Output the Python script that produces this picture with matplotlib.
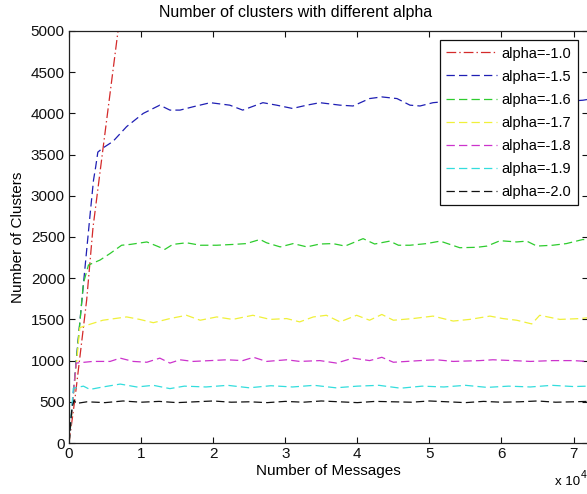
import matplotlib
matplotlib.use("Agg")
import matplotlib.pyplot as plt
from matplotlib import font_manager

# ---------------- data ----------------
labels = ["alpha=-1.0", "alpha=-1.5", "alpha=-1.6", "alpha=-1.7",
          "alpha=-1.8", "alpha=-1.9", "alpha=-2.0"]

x_a10 = [0, 800, 2450, 3330, 4700, 6800, 7300]
y_a10 = [0, 520, 1735, 2615, 3560, 5000, 5350]

x_a15 = [0, 1000, 2100, 2450, 2900, 3400, 3700, 4000, 4700, 6100, 8000, 10300,
         12600, 14000, 15400, 17200, 19600, 22300, 24100, 26900, 28800, 31000,
         33000, 34800, 37600, 39400, 41700, 43400, 45500, 47300, 48700, 50500,
         53000, 56000, 59000, 62000, 65000, 68000, 71300, 72000]
y_a15 = [0, 1000, 2020, 2340, 2750, 3190, 3350, 3530, 3580, 3660, 3840, 4000,
         4100, 4040, 4040, 4080, 4130, 4100, 4040, 4130, 4100, 4060,
         4100, 4130, 4100, 4090, 4180, 4200, 4180, 4100, 4090, 4130,
         4150, 4120, 4160, 4130, 4150, 4140, 4160, 4170]

x_a16 = [0, 2000, 2700, 4300, 5700, 7300, 8500, 10800, 12200, 13300, 14400,
         16300, 18200, 20500, 22800, 24600, 26500, 27400, 29300, 31100, 33000,
         34800, 36600, 38300, 40800, 42400, 44500, 45700, 47300, 49600, 51500,
         54200, 56600, 58000, 59800, 62100, 63500, 64900, 67100, 69000, 71300,
         72000]
y_a16 = [0, 1940, 2160, 2220, 2300, 2400, 2410, 2440, 2390, 2350, 2410,
         2430, 2400, 2400, 2410, 2420, 2470, 2430, 2380, 2420, 2380,
         2415, 2420, 2390, 2480, 2415, 2450, 2400, 2400, 2420, 2450,
         2370, 2375, 2390, 2455, 2440, 2450, 2390, 2400, 2420, 2470,
         2460]

x_a17 = [0, 1500, 2500, 4700, 8000, 9800, 11700, 14000, 16300, 18200, 20500,
         22700, 25500, 27900, 30200, 32000, 33900, 35700, 37600, 39900, 41700,
         43400, 45000, 47700, 50500, 53300, 55600, 58400, 60200, 62100, 64200,
         65300, 68100, 70900, 72000]
y_a17 = [0, 1400, 1430, 1490, 1530, 1500, 1460, 1510, 1550, 1490, 1530,
         1500, 1550, 1500, 1510, 1470, 1530, 1550, 1470, 1550, 1490,
         1560, 1490, 1510, 1540, 1480, 1500, 1540, 1510, 1490, 1445,
         1550, 1500, 1510, 1520]

x_a18 = [0, 1000, 3300, 5700, 7100, 8900, 10800, 12600, 14000, 15400, 17200,
         19600, 21900, 24100, 25600, 27400, 30200, 32000, 34800, 37100, 39400,
         41700, 43400, 45000, 48700, 51000, 53300, 57000, 58800, 61600, 64000,
         67100, 69900, 72000]
y_a18 = [0, 970, 990, 990, 1030, 990, 980, 1030, 970, 1010, 990,
         1000, 1010, 1000, 1040, 990, 1010, 990, 1000, 970, 1030,
         1000, 1040, 980, 1000, 1010, 990, 1000, 1010, 1000, 990,
         1000, 1000, 990]

x_a19 = [0, 600, 2000, 2900, 4700, 7100, 9400, 11700, 14000, 16000, 19000,
         22000, 25000, 28000, 31000, 34000, 37000, 40000, 43000, 46000, 49000,
         52000, 55000, 58000, 61000, 64000, 67000, 70000, 72000]
y_a19 = [0, 665, 690, 650, 680, 715, 680, 700, 660, 690, 680,
         700, 670, 695, 680, 700, 670, 690, 700, 665, 690,
         680, 700, 675, 690, 680, 700, 685, 690]

x_a20 = [0, 400, 700, 1000, 2500, 5000, 7500, 10000, 12500, 15000, 17500,
         20000, 22500, 25000, 27500, 30000, 32500, 35000, 37500, 40000, 42500,
         45000, 47500, 50000, 52500, 55000, 57500, 60000, 62500, 65000, 67500,
         70000, 72000]
y_a20 = [0, 420, 520, 480, 500, 490, 510, 495, 505, 490, 500,
         510, 495, 500, 490, 505, 495, 510, 500, 490, 505,
         500, 495, 510, 500, 490, 505, 495, 500, 510, 495,
         500, 505]

xticks = [0, 10000, 20000, 30000, 40000, 50000, 60000, 70000]
xticklabels = ["0", "1", "2", "3", "4", "5", "6", "7"]
yticks = [0, 500, 1000, 1500, 2000, 2500, 3000, 3500, 4000, 4500, 5000]

# ---------------- style ----------------
avail = {f.name for f in font_manager.fontManager.ttflist}
fam = [f for f in ["Liberation Sans Narrow", "Liberation Sans", "DejaVu Sans"] if f in avail]
plt.rcParams["font.family"] = fam
plt.rcParams["lines.scale_dashes"] = False

colors = ["#d42a2a", "#1f1fb4", "#2ecc2e", "#f0f03a", "#cc33cc", "#33dddd", "#111111"]
dash_dashed = (6, 3)
dash_dotdash = (7, 2.2, 1, 2.2)

fig = plt.figure(figsize=(5.87, 4.94), dpi=100)
W, H = 587.0, 494.0
ax_left, ax_right = 69 / W, 588 / W
ax_bottom, ax_top = (H - 443) / H, (H - 31) / H
ax = fig.add_axes([ax_left, ax_bottom, ax_right - ax_left, ax_top - ax_bottom])

series = [(x_a10, y_a10), (x_a15, y_a15), (x_a16, y_a16), (x_a17, y_a17),
          (x_a18, y_a18), (x_a19, y_a19), (x_a20, y_a20)]
for i, ((xs, ys), lab, col) in enumerate(zip(series, labels, colors)):
    d = dash_dotdash if i == 0 else dash_dashed
    ax.plot(xs, ys, color=col, lw=0.9, dashes=d, label=lab)

ax.set_xlim(0, 72000)
ax.set_ylim(0, 5000)
ax.set_xticks(xticks)
ax.set_xticklabels(xticklabels)
ax.set_yticks(yticks)
ax.tick_params(direction="in", length=4, width=0.8, top=True, right=True,
               labelsize=11, pad=3, colors="#111111")
for s in ax.spines.values():
    s.set_linewidth(0.9)
    s.set_color("#222222")

ax.set_xlabel("Number of Messages", fontsize=11, labelpad=2)
ax.set_ylabel("Number of Clusters", fontsize=11, labelpad=4)
fig.text(296 / W, 1 - 13 / H, "Number of clusters with different alpha",
         ha="center", va="center", fontsize=11.5)
fig.text(555 / W, 1 - 482 / H, "x 10", ha="left", va="center", fontsize=9.5)
fig.text(581 / W, 1 - 475 / H, "4", ha="left", va="center", fontsize=7.5)

leg = ax.legend(loc="upper right", bbox_to_anchor=((578 - 69) / 519, (443 - 40) / 412),
                fontsize=10.5, frameon=True, fancybox=False, framealpha=1,
                edgecolor="#111111", handlelength=3.5, handletextpad=0.3,
                labelspacing=0.62, borderpad=0.45, borderaxespad=0)
leg.get_frame().set_linewidth(0.9)

fig.savefig("out.png", dpi=100)
